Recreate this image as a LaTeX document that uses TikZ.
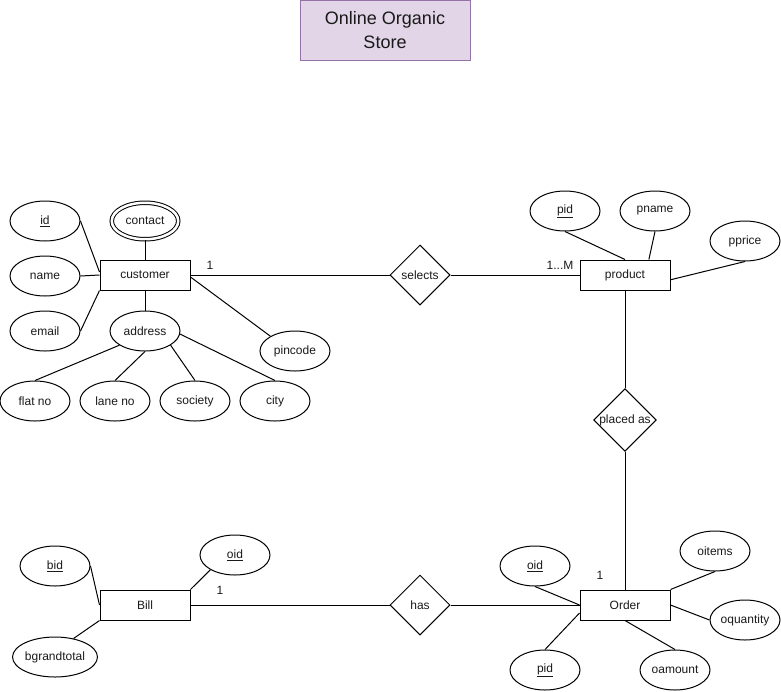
\documentclass[tikz,border=0pt]{standalone}
\usepackage{fontspec}
\setmainfont{Liberation Sans}
\usetikzlibrary{shapes.geometric,calc}
\definecolor{titlefill}{HTML}{E1D5E7}
\definecolor{titledraw}{HTML}{9673A6}
\definecolor{txt}{HTML}{1A1A1A}
\tikzset{
  every node/.style={font=\fontsize{12}{14}\selectfont, text=txt},
  ent/.style={draw, line width=1pt, minimum width=90pt, minimum height=30pt, inner sep=0pt},
  attr/.style={draw, ellipse, line width=1pt, minimum width=70pt, minimum height=40pt, inner sep=0pt},
  mattr/.style={draw, ellipse, line width=1pt, double, double distance=2.5pt, minimum width=66.5pt, minimum height=36.5pt, inner sep=0pt},
  rel/.style={draw, diamond, line width=1pt, minimum width=60pt, minimum height=60pt, inner sep=0pt, aspect=1},
  conn/.style={line width=1pt},
  card/.style={font=\fontsize{12}{14}\selectfont},
}
\begin{document}
\begin{tikzpicture}[x=1pt,y=-1pt]
\useasboundingbox (0,0) rectangle (781,691);
\fill[white] (0,0) rectangle (781,691);
% title
\node[draw=titledraw, fill=titlefill, line width=1pt, minimum width=170pt, minimum height=60pt, inner sep=0pt, align=center, font=\fontsize{18}{24}\selectfont] (title) at (385,30.5) {Online Organic\\Store};

% customer
\node[ent] (cust) at (145,275) {customer};
\node[attr] (id) at (45,221) {\underline{id}};
\node[attr] (name) at (45,276) {name};
\node[attr] (email) at (45,331) {email};
\node[mattr] (contact) at (145,221) {contact};
\node[attr] (addr) at (145,331) {address};
\node[attr] (pin) at (295,351) {pincode};
\node[attr] (flat) at (35,401) {flat no};
\node[attr] (lane) at (115,401) {lane no};
\node[attr] (soc) at (195,401) {society};
\node[attr] (city) at (275,401) {city};

% product
\node[ent] (prod) at (625,275) {product};
\node[attr] (pid) at (565,211) {\underline{pid}};
\node[attr] (pname) at (655,211) {pname};
\node[attr] (pprice) at (745,241) {pprice};

% relationships
\node[rel] (sel) at (420,275) {selects};
\node[rel] (plc) at (625,420) {placed as};
\node[rel] (has) at (420,605) {has};

% order
\node[ent] (ord) at (625,605) {Order};
\node[attr] (ooid) at (535,566) {\underline{oid}};
\node[attr] (opid) at (545,670) {\underline{pid}};
\node[attr] (oamt) at (675,670) {oamount};
\node[attr] (oqty) at (745,620) {oquantity};
\node[attr] (oit) at (715,551) {oitems};

% bill
\node[ent] (bill) at (145,605) {Bill};
\node[attr] (bid) at (55,566) {\underline{bid}};
\node[attr, minimum width=75pt] (bgt) at (55,657) {bgrandtotal};
\node[attr] (boid) at (235,555) {\underline{oid}};

% connectors: customer
\draw[conn] (id.east) -- ($(cust.west)+(0,-3)$);
\draw[conn] (name.east) -- (cust.west);
\draw[conn] (email.east) -- (cust.south west);
\draw[conn] (contact.south) -- (cust.north);
\draw[conn] (cust.south) -- (addr.north);
\draw[conn] ($(cust.east)+(0,2)$) -- (pin.149);
\draw[conn] (addr.209) -- (flat.north);
\draw[conn] (addr.south) -- (lane.north);
\draw[conn] (addr.331) -- (soc.north);
\draw[conn] (addr.355) -- (city.north);

% connectors: product
\draw[conn] (pid.south) -- (prod.north);
\draw[conn] (pname.south) -- (prod.33);
\draw[conn] (pprice.south) -- (prod.-6);

% relationships
\draw[conn] (cust.east) -- (sel.west);
\draw[conn] (sel.east) -- (prod.west);
\draw[conn] (prod.south) -- (plc.north);
\draw[conn] (plc.south) -- (ord.north);
\draw[conn] (bill.east) -- (has.west);
\draw[conn] (has.east) -- (ord.west);

% order attributes
\draw[conn] (ooid.south) -- (ord.west);
\draw[conn] (opid.north) -- (ord.190);
\draw[conn] (oamt.north) -- (ord.south);
\draw[conn] (oqty.west) -- (ord.east);
\draw[conn] (oit.south) -- (ord.north east);

% bill attributes
\draw[conn] (bid.east) -- (bill.west);
\draw[conn] (bgt.45) -- (bill.south west);
\draw[conn] (boid.211) -- (bill.north east);

% cardinalities
\node[card] (c1) at (210,265) {1};
\node[card] (c2) at (560,265) {1...M};
\node[card] (c3) at (600,575) {1};
\node[card] (c4) at (220,590) {1};
\end{tikzpicture}
\end{document}
